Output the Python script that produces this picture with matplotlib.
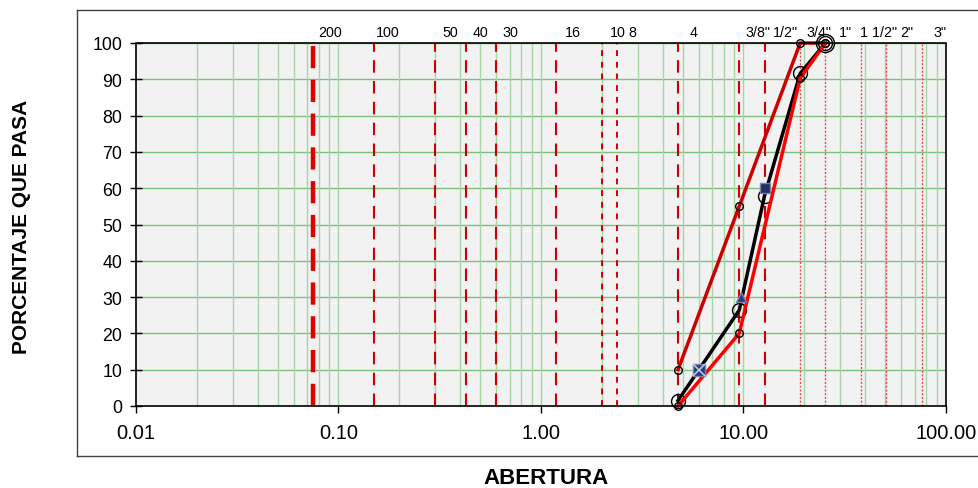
import matplotlib
matplotlib.use("Agg")
import matplotlib.pyplot as plt
import matplotlib.transforms as mtransforms
from matplotlib.lines import Line2D
import numpy as np

plt.rcParams['font.family'] = ['Liberation Sans', 'DejaVu Sans']

# ---- data ----
sieve_labels = ["200", "100", "50", "40", "30", "16", "10", "8", "4",
                "3/8\"", "1/2\"", "3/4\"", "1\"", "1 1/2\"", "2\"", "3\""]
sieve_sizes = [0.075, 0.15, 0.30, 0.425, 0.60, 1.18, 2.00, 2.36, 4.75,
               9.525, 12.7, 19.05, 25.4, 38.1, 50.8, 76.2]

sample_x = [4.75, 9.525, 12.7, 19.05, 25.4]
sample_y = [1.5, 26.4, 57.9, 91.6, 100]

upper_x = [4.75, 9.525, 19.05, 25.4]
upper_y = [10, 55, 100, 100]

lower_x = [4.75, 9.525, 19.05, 25.4]
lower_y = [0, 20, 90.3, 100]

sq_x, sq_y = [12.7], [60]
tri_x, tri_y = [9.7], [30]
xbox_x, xbox_y = [6.0], [10]

x_ticks = [0.01, 0.1, 1, 10, 100]
x_ticklabels = ["0.01", "0.10", "1.00", "10.00", "100.00"]
y_ticks = [0, 10, 20, 30, 40, 50, 60, 70, 80, 90, 100]

# ---- figure ----
W, H = 979, 489
fig = plt.figure(figsize=(W / 100, H / 100), dpi=100)
ax = fig.add_axes([136 / W, 1 - 407 / H, 810 / W, 363 / H])
ax.set_facecolor('#f2f2f2')
ax.set_xscale('log')
ax.set_xlim(0.01, 100)
ax.set_ylim(0, 100)

# grid
for yv in y_ticks[1:]:
    ax.axhline(yv, color='#7cc07c', lw=1, zorder=1)
for dec in [0.01, 0.1, 1, 10]:
    for m in range(1, 10):
        v = dec * m
        if 0.01 < v < 100:
            ax.axvline(v, color='#a6d6a6', lw=1, zorder=1)

# sieve lines
styles = []
for lab in sieve_labels:
    if lab == "200":
        styles.append(dict(color='#dd0000', lw=3.2, dashes=(5, 2.6)))
    elif lab in ("10", "8"):
        styles.append(dict(color='#cc0000', lw=1.4, dashes=(3, 3)))
    elif lab in ("3/4\"", "1\"", "1 1/2\"", "2\"", "3\""):
        styles.append(dict(color='#e05050', lw=1.0, dashes=(1.5, 1.2)))
    else:
        styles.append(dict(color='#cc0000', lw=1.5, dashes=(6, 4)))
for s, st in zip(sieve_sizes, styles):
    ax.axvline(s, zorder=2, **st)

# sieve labels
offsets = [17, 14, 15, 15, 14, 17, 16, 16, 16, 19, 21, 19, 20, 17, 20, 18]
for lab, s, off in zip(sieve_labels, sieve_sizes, offsets):
    tr = ax.get_xaxis_transform() + mtransforms.ScaledTranslation(off / 100, 0, fig.dpi_scale_trans)
    ax.text(s, 1.01, lab, transform=tr, ha='center', va='bottom', fontsize=10.3, clip_on=False)

# series
ax.plot(upper_x, upper_y, color='#cc0000', lw=2.5, marker='o', ms=5.5,
        mfc='none', mec='black', mew=1, zorder=5, clip_on=False)
ax.plot(sample_x, sample_y, color='black', lw=2.5, marker='o', ms=10,
        mfc='none', mec='black', mew=1, zorder=6, clip_on=False)
ax.plot(lower_x, lower_y, color='#ff0000', lw=2.5, marker='o', ms=5.5,
        mfc='none', mec='black', mew=1, zorder=7, clip_on=False)
ax.plot(sample_x[-1:], sample_y[-1:], ls='none', marker='o', ms=13,
        mfc='none', mec='black', mew=1, zorder=8, clip_on=False)

ax.plot(sq_x, sq_y, ls='none', marker='s', ms=7, color='#1f2f6f', mec='#8080a0', zorder=9)
ax.plot(tri_x, tri_y, ls='none', marker='^', ms=7, color='#1f3f7f', mec='#8080a0', zorder=9)
ax.plot(xbox_x, xbox_y, ls='none', marker='s', ms=9, color='#1f3f7f', mec='#8080a0', zorder=9)
ax.plot(xbox_x, xbox_y, ls='none', marker='x', ms=8, mec='#c0c8e0', mew=1.2, zorder=10)

# spines
for side in ['top', 'right', 'bottom', 'left']:
    ax.spines[side].set_linestyle((0, (1, 1)))
    ax.spines[side].set_linewidth(1.2)
    ax.spines[side].set_color('black')
    ax.spines[side].set_zorder(11)

ax.set_xticks(x_ticks)
ax.set_xticklabels(x_ticklabels, fontsize=14.5)
ax.xaxis.set_minor_locator(matplotlib.ticker.NullLocator())
ax.set_yticks(y_ticks)
ax.set_yticklabels([str(v) for v in y_ticks], fontsize=12.8)
ax.tick_params(axis='y', direction='inout', length=8, width=1, pad=6)
ax.tick_params(axis='x', direction='out', length=5, width=1, pad=7)

# labels
fig.text(22 / W, 1 - 227 / H, "PORCENTAJE QUE PASA", rotation=90, ha='center', va='center',
         fontsize=15, fontweight='bold')
fig.text(546 / W, 1 - 479 / H, "ABERTURA", ha='center', va='center',
         fontsize=16, fontweight='bold')

# outer frame
frame_col = '#404040'
fig.add_artist(Line2D([77 / W, 1.01], [1 - 11 / H, 1 - 11 / H], color=frame_col, lw=1, transform=fig.transFigure))
fig.add_artist(Line2D([77 / W, 77 / W], [1 - 11 / H, 1 - 457 / H], color=frame_col, lw=1, transform=fig.transFigure))
fig.add_artist(Line2D([77 / W, 1.01], [1 - 457 / H, 1 - 457 / H], color=frame_col, lw=1, transform=fig.transFigure))

fig.savefig("out.png", dpi=100)
